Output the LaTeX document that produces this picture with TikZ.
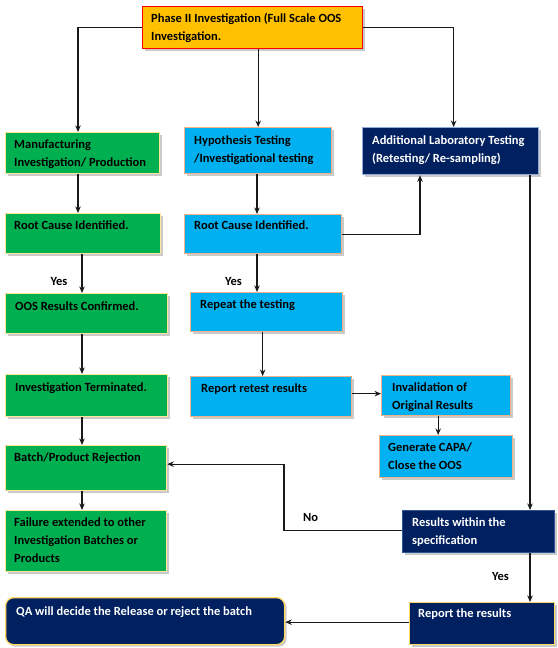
\documentclass[tikz,border=0pt]{standalone}
\usepackage{fontspec}
\setmainfont{Carlito}
\usetikzlibrary{arrows.meta,shadows,calc}
\definecolor{cgreen}{HTML}{00B050}
\definecolor{cgreenb}{HTML}{FFE699}
\definecolor{ccyan}{HTML}{00B0F0}
\definecolor{ccyanb}{HTML}{F4B183}
\definecolor{cnavy}{HTML}{002060}
\definecolor{cnavyb}{HTML}{8FAADC}
\definecolor{cnavyb2}{HTML}{2F5597}
\definecolor{cgold}{HTML}{FFD966}
\definecolor{corange}{HTML}{FFC000}
\begin{document}
\begin{tikzpicture}[x=1pt,y=-1pt,
  box/.style={rectangle, anchor=north west, inner sep=0pt, line width=1.3pt,
    drop shadow={shadow xshift=2pt, shadow yshift=-2pt, fill=black!35, opacity=0.6}},
  gbox/.style={box, fill=cgreen, draw=cgreenb},
  cbox/.style={box, fill=ccyan, draw=ccyanb},
  nbox/.style={box, fill=cnavy, draw=cnavyb},
  obox/.style={box, fill=corange, draw=red},
  txt/.style={anchor=north west, inner sep=0pt, align=left,
    font=\fontsize{12.5}{18}\selectfont\bfseries},
  wtxt/.style={txt, text=white},
  lbl/.style={inner sep=0pt, font=\fontsize{12.5}{15}\selectfont\bfseries},
  arr/.style={line width=1.1pt, draw=black!90, -{Stealth[length=6.5pt,width=5.5pt]}}
]
\useasboundingbox (0,0) rectangle (557,648);

% boxes
\node[obox, minimum width=220pt, minimum height=42pt] (top) at (142,6) {};
\node[txt] (top-t) at ([shift={(9pt,-7pt)}]top.north west) {Phase II Investigation (Full Scale OOS\\Investigation.};

\node[gbox, minimum width=154pt, minimum height=41pt] (man) at (5,132) {};
\node[txt] (man-t) at ([shift={(9pt,-8pt)}]man.north west) {Manufacturing\\Investigation/ Production};

\node[cbox, minimum width=147pt, minimum height=46pt] (hyp) at (184,127) {};
\node[txt] (hyp-t) at ([shift={(10pt,-9pt)}]hyp.north west) {Hypothesis Testing\\/Investigational testing};

\node[nbox, minimum width=176pt, minimum height=47pt] (add) at (362,127) {};
\node[wtxt] (add-t) at ([shift={(10pt,-9pt)}]add.north west) {Additional Laboratory Testing\\(Retesting/ Re-sampling)};

\node[gbox, minimum width=155pt, minimum height=40pt] (rc1) at (5,213) {};
\node[txt] (rc1-t) at ([shift={(9pt,-8pt)}]rc1.north west) {Root Cause Identified.};

\node[cbox, minimum width=157pt, minimum height=39pt] (rc2) at (184,214) {};
\node[txt] (rc2-t) at ([shift={(10pt,-7pt)}]rc2.north west) {Root Cause Identified.};

\node[gbox, minimum width=162pt, minimum height=40pt] (oos) at (5,293) {};
\node[txt] (oos-t) at ([shift={(10pt,-9pt)}]oos.north west) {OOS Results Confirmed.};

\node[cbox, minimum width=152pt, minimum height=39pt] (rep) at (190,292) {};
\node[txt] (rep-t) at ([shift={(10pt,-8pt)}]rep.north west) {Repeat the testing};

\node[gbox, minimum width=162pt, minimum height=42pt] (term) at (5,374) {};
\node[txt] (term-t) at ([shift={(10pt,-9pt)}]term.north west) {Investigation Terminated.};

\node[cbox, minimum width=161pt, minimum height=40pt] (rr) at (190,376) {};
\node[txt] (rr-t) at ([shift={(11pt,-8pt)}]rr.north west) {Report retest results};

\node[cbox, minimum width=129pt, minimum height=40pt] (inv) at (381,375) {};
\node[txt] (inv-t) at ([shift={(11pt,-8pt)}]inv.north west) {Invalidation of\\Original Results};

\node[cbox, minimum width=133pt, minimum height=42pt] (capa) at (379,435) {};
\node[txt] (capa-t) at ([shift={(9pt,-8pt)}]capa.north west) {Generate CAPA/\\Close the OOS};

\node[gbox, minimum width=161pt, minimum height=45pt] (bat) at (5,445) {};
\node[txt] (bat-t) at ([shift={(9pt,-8pt)}]bat.north west) {Batch/Product Rejection};

\node[gbox, minimum width=161pt, minimum height=61pt] (fail) at (5,510) {};
\node[txt] (fail-t) at ([shift={(9pt,-8pt)}]fail.north west) {Failure extended to other\\Investigation Batches or\\Products};

\node[nbox, draw=cnavyb2, minimum width=152pt, minimum height=42pt] (res) at (402,510) {};
\node[wtxt] (res-t) at ([shift={(10pt,-8pt)}]res.north west) {Results within the\\specification};

\node[nbox, draw=cgold, minimum width=145pt, minimum height=42pt] (rep2) at (409,602) {};
\node[wtxt] (rep2-t) at ([shift={(9pt,-7pt)}]rep2.north west) {Report the results};

\node[nbox, draw=cgold, rounded corners=8pt, minimum width=279pt, minimum height=47pt] (qa) at (5,597) {};
\node[wtxt] (qa-t) at ([shift={(11pt,-10pt)}]qa.north west) {QA will decide the Release or reject the batch};

% helper coordinates
\coordinate (xl) at (78,0);
\coordinate (xm) at (82,0);
\coordinate (xh) at (257,0);
\coordinate (xr) at (530,0);
\coordinate (xa) at (420,0);
\coordinate (xn) at (284,0);

% connectors
\draw[arr] (top.west) -| (man.north -| xl);
\draw[arr] (top.south -| hyp.north) -- (hyp.north);
\draw[arr] (top.east) -| ([xshift=3pt]add.north);
\draw[arr] (man.south -| xl) -- (rc1.north -| xl);
\draw[arr] (hyp.south -| xh) -- (rc2.north -| xh);
\draw[arr] (rc2.east) -| (add.south -| xa);
\draw[arr] (rc1.south -| xm) -- (oos.north -| xm);
\draw[arr] (rc2.south -| xh) -- (rep.north -| xh);
\draw[arr] ([xshift=-4pt]rep.south) -- ([xshift=-4pt]rep.south |- rr.north);
\draw[arr] ([yshift=3pt]rr.east) -- ([yshift=3pt]rr.east -| inv.west);
\draw[arr] ([xshift=-8pt]inv.south) -- ([xshift=-8pt]inv.south |- capa.north);
\draw[arr] (oos.south -| xm) -- (term.north -| xm);
\draw[arr] (term.south -| xm) -- (bat.north -| xm);
\draw[arr] (bat.south -| xm) -- (fail.north -| xm);
\draw[arr] (add.south -| xr) -- (res.north -| xr);
\draw[arr] ([yshift=1pt]res.west) -| ([yshift=4pt]bat.east -| xn) -- ([yshift=4pt]bat.east);
\draw[arr] (res.south -| xr) -- (rep2.north -| xr);
\draw[arr] ([yshift=1.5pt]rep2.west) -- ([yshift=1.5pt]rep2.west -| qa.east);

% labels
\node[lbl] (y1) at (59,281) {Yes};
\node[lbl] (y2) at (233.5,281) {Yes};
\node[lbl] (y3) at (500.5,576) {Yes};
\node[lbl] (no) at (310.5,517) {No};
\end{tikzpicture}
\end{document}
